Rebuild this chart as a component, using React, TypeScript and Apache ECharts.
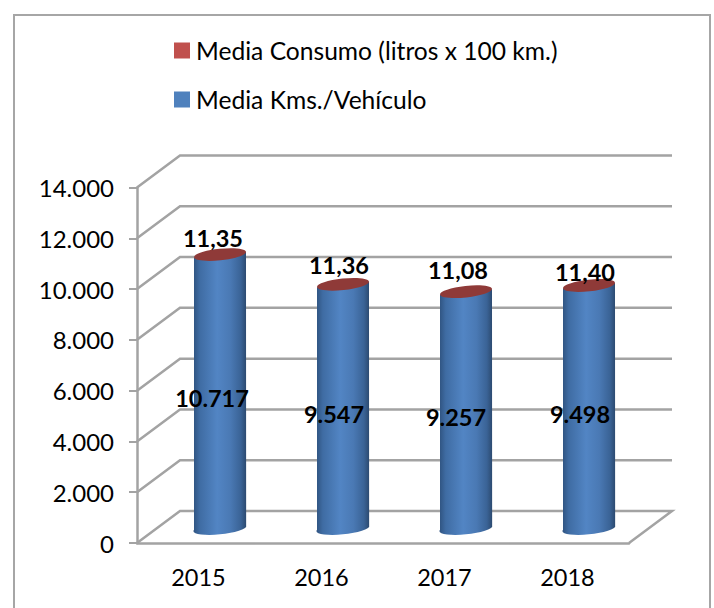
import React, { useEffect, useRef } from "react";
import * as echarts from "echarts";

const years = ["2015", "2016", "2017", "2018"];
const kms = [10717, 9547, 9257, 9498];
const consumo = [11.35, 11.36, 11.08, 11.4];
const gridTicks = [0, 2000, 4000, 6000, 8000, 10000, 12000, 14000];
const kmsName = "Media Kms./Vehículo";
const consumoName = "Media Consumo (litros x 100 km.)";

const DX = 43, DY = -32, RX = 26, RY = 5.8, TILT = 2.8;
const FONT = "Lato, Carlito, sans-serif";
const kmsNudge = [[-8, 7], [-9, 8], [-10, 8], [-9, 8]];
const consumoNudge = [[-7, -17], [-4, -19], [-8, -22], [-4, -14]];

const fmtKms = (v: number) => String(v).replace(/\B(?=(\d{3})+$)/g, ".");
const fmtCons = (v: number) => v.toFixed(2).replace(".", ",");

const LINE = { stroke: "#a3a3a3", lineWidth: 2.5, fill: "none" };

export default function App() {
  const ref = useRef<HTMLDivElement>(null);
  useEffect(() => {
    const chart = echarts.init(ref.current!, null, { renderer: "svg" });
    chart.setOption({
      animation: false,
      backgroundColor: "#fff",
      textStyle: { fontFamily: FONT },
      graphic: [{
        type: "rect", z: 0, silent: true,
        shape: { x: 14, y: 15, width: 696, height: 610 },
        style: { fill: "#fff", stroke: "#a6a6a6", lineWidth: 2 },
      }],
      legend: {
        orient: "vertical", left: 174, top: 38, itemGap: 24, padding: 0,
        itemWidth: 16, itemHeight: 16, icon: "rect", symbolRotate: 0,
        selectedMode: false,
        data: [
          { name: consumoName, icon: "rect", itemStyle: { color: "#c0504d" } },
          { name: kmsName, icon: "rect", itemStyle: { color: "#4f81bd" } },
        ],
        textStyle: { fontSize: 24.6, color: "#000", fontFamily: FONT, padding: [0, 0, 0, 1] },
      },
      grid: { left: 137, top: 187.5, width: 492, height: 355.5 },
      xAxis: {
        type: "category", data: years,
        axisLine: { lineStyle: { color: "#a3a3a3", width: 2.5 } },
        axisTick: { length: 7, lineStyle: { color: "#a3a3a3", width: 2 } },
        axisLabel: { fontSize: 23.5, color: "#000", margin: 22, fontFamily: FONT },
        splitLine: { show: false },
      },
      yAxis: {
        type: "value", min: 0, max: 14000, interval: 2000,
        axisLine: { show: true, lineStyle: { color: "#a3a3a3", width: 2.5 } },
        axisTick: { show: true, length: 8, lineStyle: { color: "#a3a3a3", width: 2 } },
        axisLabel: { fontSize: 24, color: "#000", margin: 23, fontFamily: FONT, formatter: fmtKms },
        splitLine: { show: false },
      },
      series: [
        {
          type: "custom", name: "walls", z: 1, silent: true,
          data: gridTicks.map((t) => [0, t]),
          renderItem: (p: any, api: any) => {
            const cs = p.coordSys;
            const y = api.coord([0, api.value(1)])[1];
            const x0 = cs.x, x1 = cs.x + cs.width;
            const pts = [[x0, y], [x0 + DX, y + DY], [x1 + DX, y + DY]];
            if (api.value(1) === 0) pts.push([x1, y]);
            return { type: "polyline", shape: { points: pts }, style: LINE };
          },
        },
        {
          type: "custom", name: kmsName, z: 2, silent: true,
          itemStyle: { color: "#4f81bd" },
          data: kms.map((v, i) => [i, v]),
          renderItem: (p: any, api: any) => {
            const i = api.value(0), v = api.value(1);
            const [cx0, top0] = api.coord([i, v]);
            const base0 = api.coord([i, 0])[1];
            const cx = cx0 + DX / 2, top = top0 + DY / 2, base = base0 + DY / 2;
            const r = Math.hypot(RX, TILT);
            const rot = (-Math.atan2(TILT, RX) * 180) / Math.PI;
            const d =
              `M${cx - RX} ${top + TILT}L${cx - RX} ${base + TILT}` +
              `A${r} ${RY} ${rot} 0 0 ${cx + RX} ${base - TILT}` +
              `L${cx + RX} ${top - TILT}Z`;
            return {
              type: "path",
              shape: { pathData: d },
              style: {
                fill: new echarts.graphic.LinearGradient(0, 0, 1, 0, [
                  { offset: 0, color: "#2f5380" },
                  { offset: 0.12, color: "#3f6ca3" },
                  { offset: 0.45, color: "#5285c4" },
                  { offset: 0.7, color: "#4a79b4" },
                  { offset: 0.9, color: "#3a6396" },
                  { offset: 1, color: "#2c4a70" },
                ]),
              },
            };
          },
        },
        {
          type: "custom", name: consumoName, z: 3, silent: true,
          itemStyle: { color: "#c0504d" },
          data: consumo.map((v, i) => [i, v + kms[i]]),
          renderItem: (p: any, api: any) => {
            const i = api.value(0), v = api.value(1);
            const [cx0, top0] = api.coord([i, v]);
            const r = Math.hypot(RX, TILT);
            return {
              type: "ellipse",
              x: cx0 + DX / 2,
              y: top0 + DY / 2,
              rotation: Math.atan2(TILT, RX),
              shape: { cx: 0, cy: 0, rx: r, ry: RY },
              style: { fill: "#8f3a38" },
            };
          },
        },
        {
          type: "custom", name: "labels", z: 4, silent: true,
          data: kms.map((v, i) => [i, v]),
          renderItem: (p: any, api: any) => {
            const i = api.value(0), v = api.value(1);
            const mid = api.coord([i, v / 2]);
            const top = api.coord([i, v + consumo[i]]);
            const txt = (x: number, y: number, text: string) => ({
              type: "text", x, y,
              style: {
                text, fill: "#000", align: "center", verticalAlign: "middle",
                font: `bold 23.5px ${FONT}`,
              },
            });
            return {
              type: "group",
              children: [
                txt(mid[0] + DX / 2 + kmsNudge[i][0], mid[1] + DY / 2 + kmsNudge[i][1], fmtKms(v)),
                txt(top[0] + DX / 2 + consumoNudge[i][0], top[1] + DY / 2 + consumoNudge[i][1], fmtCons(consumo[i])),
              ],
            };
          },
        },
      ],
    });
    return () => chart.dispose();
  }, []);
  return <div ref={ref} style={{ position: "absolute", left: 0, top: 0, width: 714, height: 608 }} />;
}
